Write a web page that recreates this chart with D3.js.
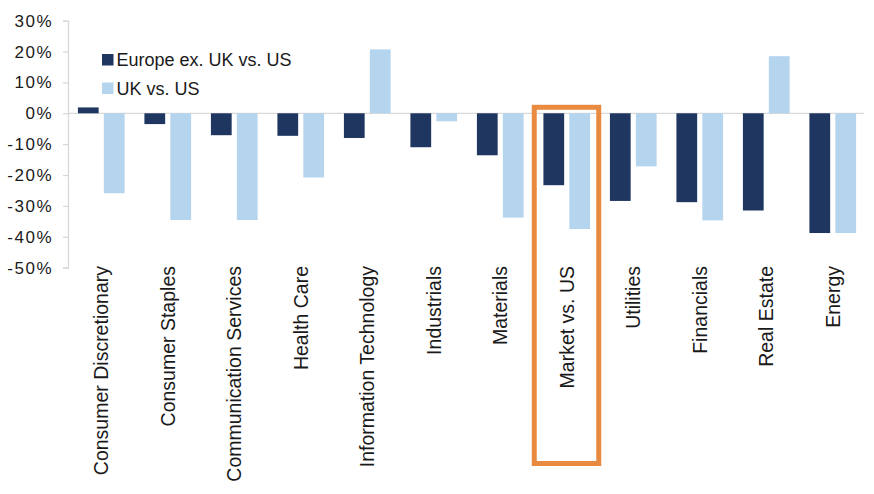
<!DOCTYPE html>
<html><head><meta charset="utf-8">
<script src="https://cdn.jsdelivr.net/npm/d3@7"></script>
<style>
html,body{margin:0;padding:0;background:#fff;}
svg{display:block;font-family:"Liberation Sans",Arial,sans-serif;}
</style></head>
<body><svg id="chart" width="874" height="494"></svg>
<script>
const categories = ["Consumer Discretionary","Consumer Staples","Communication Services","Health Care","Information Technology","Industrials","Materials","Market vs. US","Utilities","Financials","Real Estate","Energy"];
const seriesNames = ["Europe ex. UK vs. US","UK vs. US"];
const europeVsUS = [1.9,-3.5,-7.1,-7.3,-8.0,-11.0,-13.6,-23.3,-28.4,-28.8,-31.5,-38.8];
const ukVsUS = [-25.9,-34.6,-34.6,-20.8,20.7,-2.6,-33.8,-37.5,-17.2,-34.7,18.5,-38.8];
const yTicks = [30,20,10,0,-10,-20,-30,-40,-50];
const highlight = "Market vs. US";

const colors = ["#1f3660","#b5d4ee"];
const svg = d3.select("#chart");

const y = d3.scaleLinear().domain([-50,30]).range([267.6,20.7]);
const x0 = d3.scaleBand().domain(categories).range([68,866]).paddingInner(0.298).paddingOuter(0.149);
const x1 = d3.scaleBand().domain(seriesNames).range([0,x0.bandwidth()]).paddingInner(0.2);

const data = categories.map((c,i)=>({cat:c, vals:[europeVsUS[i], ukVsUS[i]]}));

// zero line
svg.append("line").attr("x1",68).attr("x2",864).attr("y1",y(0)).attr("y2",y(0))
  .attr("stroke","#d9d9d9").attr("stroke-width",1.3);

// y axis
const yAxis = d3.axisLeft(y).tickValues(yTicks).tickFormat(d=>d+"%").tickSize(5).tickPadding(10);
const ga = svg.append("g").attr("transform","translate(68,0)").call(yAxis);
ga.select(".domain").attr("stroke","#d9d9d9").attr("stroke-width",1.3);
ga.selectAll(".tick line").attr("stroke","#d9d9d9").attr("stroke-width",1.3);
ga.selectAll(".tick text").attr("fill","#1a1a1a").style("font-size","17px").style("letter-spacing","1.5px")
  .style("font-family","'Liberation Sans',Arial,sans-serif");

// bars
const groups = svg.append("g").selectAll("g").data(data).join("g")
  .attr("transform",d=>`translate(${x0(d.cat)},0)`);
groups.selectAll("rect").data(d=>d.vals.map((v,j)=>({v,s:seriesNames[j],j}))).join("rect")
  .attr("x",d=>x1(d.s)).attr("width",x1.bandwidth())
  .attr("y",d=>y(Math.max(0,d.v))).attr("height",d=>Math.abs(y(d.v)-y(0)))
  .attr("fill",d=>colors[d.j]);

// category labels
svg.append("g").selectAll("text").data(categories).join("text")
  .attr("transform",d=>`translate(${x0(d)+x0.bandwidth()/2},266) rotate(-90)`)
  .attr("text-anchor","end").attr("dy","0.36em")
  .attr("fill","#1a1a1a").style("font-size","19.5px")
  .text(d=>d);

// highlight box
const hx = x0(highlight)+x0.bandwidth()/2;
svg.append("rect").attr("x",hx-32.5).attr("y",y(0)-6).attr("width",64.5).attr("height",463.5-(y(0)-6))
  .attr("fill","none").attr("stroke","#e88a40").attr("stroke-width",5);

// legend
const lg = svg.append("g").selectAll("g").data(seriesNames).join("g")
  .attr("transform",(d,i)=>`translate(102,${54+i*28.5})`);
lg.append("rect").attr("width",11.5).attr("height",11.5).attr("fill",(d,i)=>colors[i]);
lg.append("text").attr("x",14.5).attr("y",12).attr("fill","#1a1a1a").style("font-size","18px").text(d=>d);
</script></body></html>
